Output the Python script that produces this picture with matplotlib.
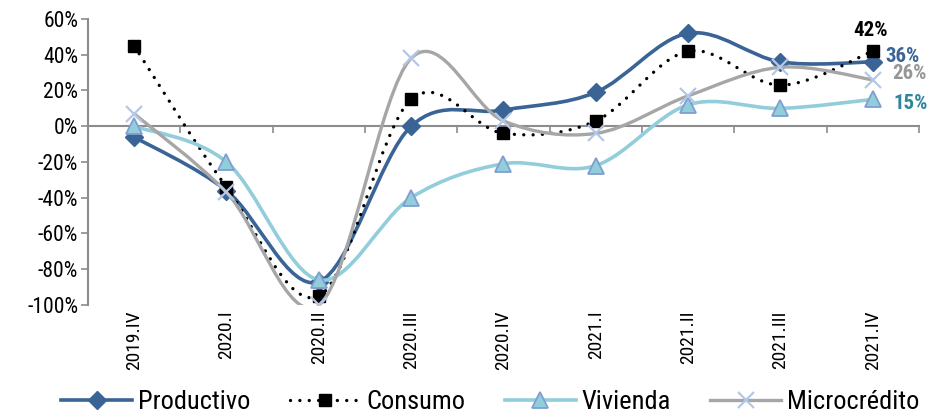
import matplotlib
matplotlib.use("Agg")
from matplotlib import pyplot as plt
from matplotlib.path import Path
from matplotlib.patches import PathPatch
from matplotlib.lines import Line2D
import numpy as np

plt.rcParams['font.family'] = ['Roboto Condensed', 'DejaVu Sans']

# datos
trimestres = ["2019.IV", "2020.I", "2020.II", "2020.III", "2020.IV",
              "2021.I", "2021.II", "2021.III", "2021.IV"]
productivo = [-6, -36, -87, 0, 9, 19, 52, 36, 36]
consumo = [45, -34, -95, 15, -4, 3, 42, 23, 42]
vivienda = [0, -20, -86, -40, -21, -22, 12, 10, 15]
microcredito = [7, -37, -100, 38, 3, -4, 17, 33, 26]
etiquetas_finales = ["42%", "36%", "26%", "15%"]


def curva_suave(x, y):
    # curva tipo Excel (Catmull-Rom con Bezier cubicas)
    x = np.asarray(x, float)
    y = np.asarray(y, float)
    n = len(x)
    verts = [(x[0], y[0])]
    codes = [Path.MOVETO]
    for i in range(n - 1):
        p0 = np.array([x[max(i - 1, 0)], y[max(i - 1, 0)]])
        p1 = np.array([x[i], y[i]])
        p2 = np.array([x[i + 1], y[i + 1]])
        p3 = np.array([x[min(i + 2, n - 1)], y[min(i + 2, n - 1)]])
        c1 = p1 + (p2 - p0) / 6
        c2 = p2 - (p3 - p1) / 6
        verts += [tuple(c1), tuple(c2), tuple(p2)]
        codes += [Path.CURVE4] * 3
    return Path(verts, codes)


fig = plt.figure(figsize=(9.3, 4.13), dpi=100)
ax = fig.add_axes([0.0946, 0.2615, 0.8935, 0.6925])

x = np.arange(len(trimestres))

series = [
    (productivo, "Productivo", dict(color="#3A6496", lw=2.6, ls="-"),
     dict(marker="D", ms=9, mfc="#3A6496", mec="#3A6496")),
    (consumo, "Consumo", dict(color="black", lw=2.4, ls=(0, (0.01, 2.8))),
     dict(marker="s", ms=8, mfc="black", mec="black")),
    (vivienda, "Vivienda", dict(color="#92CDDC", lw=2.6, ls="-"),
     dict(marker="^", ms=12, mfc="#92CDDC", mec="#7F9FCF", mew=1.3)),
    (microcredito, "Microcrédito", dict(color="#A6A6A6", lw=2.4, ls="-"),
     dict(marker="x", ms=11, mfc="none", mec="#B4C7E7", mew=1.6)),
]

handles = []
for k, (vals, nombre, lstyle, mstyle) in enumerate(series):
    patch = PathPatch(curva_suave(x, vals), fill=False, edgecolor=lstyle["color"],
                      linewidth=lstyle["lw"], linestyle=lstyle["ls"],
                      capstyle="round", zorder=2 + k)
    ax.add_patch(patch)
    ax.plot(x, vals, linestyle="none", zorder=2.5 + k, **mstyle)
    handles.append(Line2D([0], [0], color=lstyle["color"], lw=lstyle["lw"],
                          ls=lstyle["ls"], dash_capstyle="round", **mstyle))

ax.set_xlim(-0.5, len(trimestres) - 0.5)
ax.set_ylim(-100, 60)
ax.set_yticks(np.arange(-100, 61, 20))
ax.set_yticklabels([f"{v}%" for v in range(-100, 61, 20)], fontsize=15.5)
ax.set_xticks(x)
ax.set_xticklabels(trimestres, rotation=90, fontsize=14)
ax.tick_params(axis="x", length=0, pad=4)
ax.tick_params(axis="y", length=5, color="#8C8C8C", width=1.2, pad=2)

for s in ["top", "right", "bottom"]:
    ax.spines[s].set_visible(False)
ax.spines["left"].set_color("#8C8C8C")
ax.spines["left"].set_linewidth(1.5)

# eje horizontal en cero con marcas entre categorias
sec = ax.secondary_xaxis(0, transform=ax.transData)
sec.set_xticks(np.arange(-0.5, len(trimestres), 1.0))
sec.set_xticklabels([])
sec.tick_params(length=5, color="#8C8C8C", width=1.2)
sec.spines["bottom"].set_color("#8C8C8C")
sec.spines["bottom"].set_linewidth(1.5)

# etiquetas del ultimo dato
ultimo = len(trimestres) - 1
ax.annotate(etiquetas_finales[0], (ultimo, consumo[-1]), xytext=(-2, 21),
            textcoords="offset pixels", ha="center", va="center",
            fontsize=15, fontweight="bold", color="black")
ax.annotate(etiquetas_finales[1], (ultimo, productivo[-1]), xytext=(30, 5),
            textcoords="offset pixels", ha="center", va="center",
            fontsize=15, fontweight="bold", color="#3A6496")
ax.annotate(etiquetas_finales[2], (ultimo, microcredito[-1]), xytext=(37, 6),
            textcoords="offset pixels", ha="center", va="center",
            fontsize=15, fontweight="bold", color="#969696")
ax.annotate(etiquetas_finales[3], (ultimo, vivienda[-1]), xytext=(38, -4),
            textcoords="offset pixels", ha="center", va="center",
            fontsize=15, fontweight="bold", color="#31859C")

fig.legend(handles, [s[1] for s in series], loc="center",
           bbox_to_anchor=(0.527, 0.027), ncol=4, frameon=False,
           fontsize=19, handlelength=2.7, handletextpad=0.2,
           columnspacing=1.5, borderpad=0.1)

fig.savefig("out.png", dpi=100)
